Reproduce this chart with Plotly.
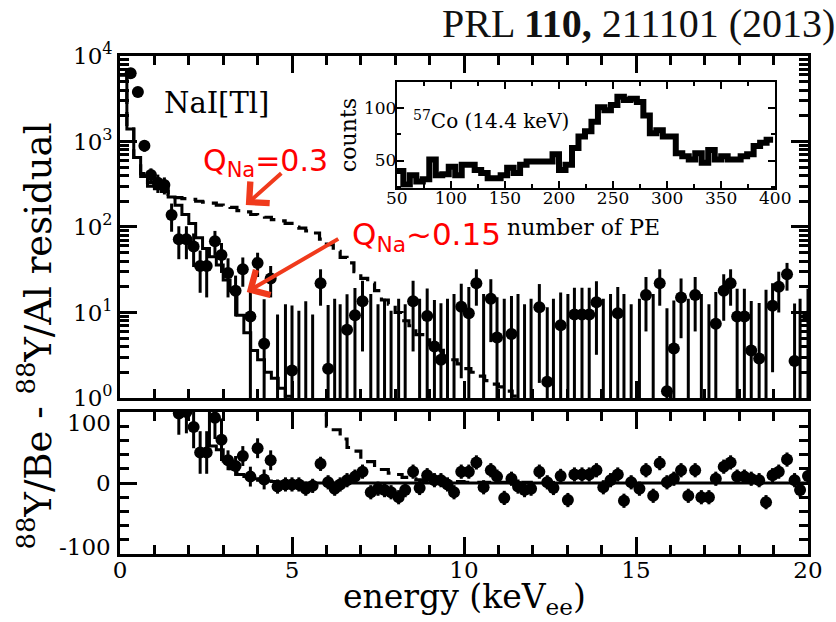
import math
import plotly.graph_objects as go

# ---------------- data ----------------
# energy bin centres (keV_ee) of the measured points
energy = [0.31, 0.52, 0.71, 0.90, 1.10, 1.29, 1.50, 1.71, 1.93, 2.14,
          2.33, 2.52, 2.76, 2.95, 3.14, 3.36, 3.57, 3.79, 4.00, 4.19,
          4.38, 4.58, 4.81, 5.00, 5.20, 5.40, 5.60, 5.83, 6.05, 6.24,
          6.40, 6.60, 6.83, 7.05, 7.29, 7.50, 7.69, 7.88, 8.10, 8.29,
          8.52, 8.71, 8.93, 9.14, 9.33, 9.52, 9.71, 9.92, 10.14, 10.36,
          10.57, 10.78, 10.96, 11.17, 11.38, 11.57, 11.76, 11.95, 12.19, 12.42,
          12.60, 12.81, 13.02, 13.21, 13.43, 13.64, 13.85, 14.05, 14.26, 14.47,
          14.65, 14.86, 15.10, 15.29, 15.50, 15.69, 15.90, 16.10, 16.31, 16.52,
          16.72, 16.90, 17.12, 17.32, 17.55, 17.75, 17.94, 18.15, 18.35, 18.58,
          18.78, 18.97, 19.15, 19.39, 19.61, 19.77, 20.00]

# log-panel residual (points below 1 are off scale; only their error bars show)
spec_counts = [6300, 3800, 890, 405, 330, 310, 138, 72, 72, 59,
               35, 35, 68, 47, 29, 18, 32, 9, 38, 4.3,
               25, 0.5, 0.5, 2.1, 0.5, 0.5, 0.5, 22, 2.2, 0.5,
               0.5, 6.3, 9.3, 13.5, 0.5, 0.5, 0.5, 0.5, 0.5, 0.5,
               13.5, 0.5, 9.1, 4.0, 2.8, 0.5, 0.5, 11.7, 9.8, 22,
               0.5, 14.5, 5.1, 0.5, 5.6, 0.5, 0.5, 0.5, 11.5, 1.55,
               0.5, 7.1, 0.5, 9.5, 9.5, 9.5, 13.2, 0.5, 0.5, 9.8,
               0.5, 0.5, 0.5, 16, 0.5, 22, 1.2, 3.8, 15, 0.5,
               16, 0.5, 0.5, 7.4, 18, 22, 9, 9, 3.6, 2.9,
               0.5, 12, 20, 28, 2.7, 0.5, 9]
spec_err = [900, 500, 130, 80, 80, 70, 50, 30, 30, 25,
            18, 20, 22, 18, 14, 9, 12, 10, 12, 10,
            10, 9, 12, 10, 10, 13, 9, 10, 10, 14,
            12, 10, 10, 10, 16, 12, 14, 10, 14, 12,
            10, 14, 10, 10, 10, 14, 16, 10, 10, 10,
            16, 10, 10, 14, 10, 16, 12, 14, 10, 10,
            14, 10, 16, 10, 10, 10, 10, 14, 16, 10,
            16, 12, 14, 10, 16, 10, 10, 10, 10, 14,
            10, 16, 12, 10, 10, 10, 10, 10, 10, 10,
            18, 10, 10, 10, 10, 14, 10]

# linear-panel residual, from energy[7] (1.71 keV) onwards
resid_counts = [98, 100, 79, 43, 43, 92, 61, 32, 24, 38,
                9, 49, 5, 32, -5, -2, -2, -2, -8, -4,
                27, 1, -8, -2, 4, 9, 16, -13, -8, -10,
                -13, -20, -10, 16, -7, 11, 4, 4, -2, -13,
                16, 16, 29, -6, 18, 9, -21, 6, -5, -10,
                -8, 16, 1, -7, 10, -24, 12, 12, 12, 18,
                -6, 4, 12, -25, 1, -8, 18, -18, 28, 1,
                6, 18, -18, 18, -20, -20, 6, 23, 29, 9,
                9, 6, 4, -27, 11, 16, 33, 4, -10, 10]
resid_err = [30, 30, 30, 30, 30, 30, 30, 14, 14, 14,
             14, 14, 14, 14, 10, 10, 10, 10, 10, 10,
             10, 10, 10, 10, 10, 10, 10, 10, 10, 10,
             10, 10, 10, 10, 10, 10, 10, 10, 10, 10,
             10, 10, 10, 10, 10, 10, 10, 10, 10, 10,
             10, 10, 10, 10, 10, 10, 10, 10, 10, 10,
             10, 10, 10, 10, 10, 10, 10, 10, 10, 10,
             10, 10, 10, 10, 10, 10, 10, 10, 10, 10,
             10, 10, 10, 10, 10, 10, 10, 10, 10, 10]

# model histograms (0.2 keV bins starting at 0 keV)
model_q015 = [6000, 1400, 650, 390, 300, 280, 260, 225, 180, 140,
              110, 75, 56, 45, 36, 24, 18, 9.3, 5.8, 3.6,
              2.8, 2.0, 1.7, 1.3, 1.05, 0.8, 0.6, 0.45]
model_q03 = [6000, 1400, 650, 420, 330, 300, 280, 240, 220, 215,
             210, 200, 195, 190, 180, 175, 170, 155, 150, 140,
             135, 130, 122, 118, 110, 100, 97, 90, 85, 72,
             62, 52, 44, 38, 30, 25, 22, 18, 14, 12.5,
             10, 8, 7, 5.5, 4.8, 4.2, 3.6, 3.1, 2.8, 2.5,
             2.2, 2.0, 1.8, 1.6, 1.45, 1.35, 1.2, 1.05, 0.95, 0.85]

# model residuals in the linear panel (bin edges, bin values)
res_q015_edges = [1.6, 1.8, 2.0, 2.2, 2.4, 2.6, 2.8, 3.0, 3.2, 3.4,
                  3.6, 3.8, 4.0, 4.2, 4.4, 4.6, 4.8, 5.0, 20.0]
res_q015 = [160, 140, 125, 110, 105, 52, 47, 31, 20, 12,
            9, 6, 4, 3, 2, 1.5, 1, 0]
res_q03_edges = [5.6, 5.8, 6.0, 6.2, 6.4, 6.6, 6.8, 7.0, 7.2, 7.4,
                 7.6, 7.8, 8.0, 8.2, 8.4, 8.6, 8.8, 9.0, 9.4, 10.0, 12.0]
res_q03 = [110, 96, 80, 75, 62, 50, 45, 33, 30, 22,
           19, 14, 12, 8, 6, 4.5, 3.5, 3, 2, 1]

# inset: 57Co calibration spectrum, 6-PE bins from 50 PE
pe_counts = [40, 27, 36, 30, 32, 51, 36, 37, 44, 36,
             46, 46, 41, 38, 33, 33, 36, 43, 38, 46,
             49, 49, 49, 49, 56, 41, 46, 62, 73, 78,
             87, 101, 98, 103, 111, 108, 109, 106, 93, 76,
             79, 73, 73, 57, 54, 51, 57, 48, 60, 51,
             54, 51, 51, 54, 56, 64, 67, 70]

# axis ranges and tick positions
E_RANGE = [0, 20]
RES_RANGE = [-100, 100]
LOG_RANGE = [0, 4]
PE_RANGE = [50, 400]
CNT_RANGE = [24, 125.4]
energy_ticks = [0, 5, 10, 15, 20]
resid_ticks = [-100, 0, 100]
resid_labels = ['-100', '0', '100']
log_ticks = [1, 10, 100, 1000, 10000]
log_minor = [m * 10 ** d for d in range(4) for m in range(2, 10)]
pe_ticks = [50, 100, 150, 200, 250, 300, 350, 400]
count_ticks = [50, 100]

# ---------------- figure ----------------
PLOT_W, PLOT_H = 700, 498
TOP_DOM = [0.3133, 1]
BOT_DOM = [0, 0.2851]
INS_X = [0.4024, 0.9524]
INS_Y = [0.7355, 0.9484]


def step_xy(edges, vals):
    return list(edges), list(vals) + [vals[-1]]


model_edges_015 = [round(0.2 * i, 1) for i in range(len(model_q015) + 1)]
model_edges_03 = [round(0.2 * i, 1) for i in range(len(model_q03) + 1)]
pe_edges = [50 + 6 * i for i in range(len(pe_counts) + 1)]
n0 = len(energy) - len(resid_counts)
resid_energy = energy[n0:]

fig = go.Figure()
DASH = '14px,8px'

# ---- top (log) panel ----
x, y = step_xy(model_edges_03, model_q03)
fig.add_trace(go.Scatter(x=x, y=y, mode='lines', line_shape='hv',
                         line=dict(color='black', width=3.2, dash=DASH),
                         xaxis='x2', yaxis='y2', hoverinfo='skip'))
x, y = step_xy(model_edges_015, model_q015)
fig.add_trace(go.Scatter(x=x, y=y, mode='lines', line_shape='hv',
                         line=dict(color='black', width=3),
                         xaxis='x2', yaxis='y2', hoverinfo='skip'))
fig.add_trace(go.Scatter(x=energy, y=spec_counts, mode='markers',
                         marker=dict(color='black', size=12),
                         error_y=dict(type='data', array=spec_err, color='black',
                                      thickness=3, width=0),
                         xaxis='x2', yaxis='y2'))

# ---- bottom (linear) panel ----
x, y = step_xy(res_q03_edges, res_q03)
fig.add_trace(go.Scatter(x=x, y=y, mode='lines', line_shape='hv',
                         line=dict(color='black', width=3.2, dash=DASH),
                         xaxis='x', yaxis='y', hoverinfo='skip'))
x, y = step_xy(res_q015_edges, res_q015)
fig.add_trace(go.Scatter(x=x, y=y, mode='lines', line_shape='hv',
                         line=dict(color='black', width=3),
                         xaxis='x', yaxis='y', hoverinfo='skip'))
fig.add_trace(go.Scatter(x=resid_energy, y=resid_counts, mode='markers',
                         marker=dict(color='black', size=12),
                         error_y=dict(type='data', array=resid_err, color='black',
                                      thickness=3, width=0),
                         xaxis='x', yaxis='y'))

# ---- inset ----
x, y = step_xy(pe_edges, pe_counts)
fig.add_trace(go.Scatter(x=x, y=y, mode='lines', line_shape='hv',
                         line=dict(color='black', width=6),
                         xaxis='x3', yaxis='y3', hoverinfo='skip'))

SERIF = 'DejaVu Serif'


def ax_style(lw=3, major=17, minor_len=9, minor=None):
    d = dict(showline=True, linewidth=lw, linecolor='black', mirror='ticks',
             ticks='inside', ticklen=major, tickwidth=lw, tickcolor='black',
             showgrid=False, zeroline=False)
    if minor is not None:
        m = dict(ticks='inside', ticklen=minor_len, tickwidth=lw, tickcolor='black',
                 showgrid=False)
        m.update(minor)
        d['minor'] = m
    return d


fig.update_layout(
    width=836, height=622,
    margin=dict(l=120, r=16, t=56, b=68),
    paper_bgcolor='white', plot_bgcolor='white',
    showlegend=False,
    font=dict(family=SERIF, color='black', size=22),
    xaxis=dict(domain=[0, 1], anchor='y', range=E_RANGE, tickvals=energy_ticks,
               tickfont=dict(size=23), ticklabelstandoff=-6,
               **ax_style(2.6, minor=dict(dtick=1))),
    yaxis=dict(domain=BOT_DOM, anchor='x', range=RES_RANGE, tickvals=resid_ticks,
               showticklabels=False,
               **ax_style(2.6, minor=dict(dtick=20))),
    xaxis2=dict(domain=[0, 1], anchor='y2', range=E_RANGE, matches='x',
                tickvals=energy_ticks, showticklabels=False,
                **ax_style(2.6, minor=dict(dtick=1))),
    yaxis2=dict(domain=TOP_DOM, anchor='x2', type='log', range=LOG_RANGE,
                tickvals=log_ticks,
                ticktext=['10<sup>%d</sup>' % round(math.log10(v)) for v in log_ticks],
                tickfont=dict(size=23),
                **ax_style(2.6, minor=dict(tickmode='array', tickvals=log_minor))),
    xaxis3=dict(domain=INS_X, anchor='y3', range=PE_RANGE, tickvals=pe_ticks,
                tickfont=dict(size=17), ticklabelstandoff=-6,
                **ax_style(2, 7, 4, minor=dict(dtick=25))),
    yaxis3=dict(domain=INS_Y, anchor='x3', range=CNT_RANGE, tickvals=count_ticks,
                tickfont=dict(size=17), ticklabelstandoff=-5,
                **ax_style(2, 7, 4, minor=dict(dtick=25))),
)

RED = '#ff0000'
ARROW = '#f03a1c'


def px(xp):
    return (xp - 120) / PLOT_W


def py(yp):
    return (554 - yp) / PLOT_H


annots = [
    dict(text='PRL <b>110,</b> 211101 (2013)', x=px(446), y=py(23), xanchor='left',
         yanchor='middle', font=dict(family='Liberation Serif', size=40, color='#111111')),
    dict(text='<sup>88</sup>Y/Be - <sup>88</sup>Y/Al residual', x=px(34), y=py(336),
         textangle=-90, xanchor='center', yanchor='middle', font=dict(size=37)),
    dict(text='energy (keV<sub>ee</sub>)', x=px(470), y=py(598), xanchor='center',
         yanchor='middle', font=dict(size=33)),
    dict(text='NaI[Tl]', x=px(218), y=py(103), xanchor='center', yanchor='middle',
         font=dict(size=29)),
    dict(text='Q<sub>Na</sub>=0.3', x=px(268), y=py(162), xanchor='center', yanchor='middle',
         font=dict(family='DejaVu Sans', size=30, color=RED)),
    dict(text='Q<sub>Na</sub>~0.15', x=px(432), y=py(236), xanchor='center', yanchor='middle',
         font=dict(family='DejaVu Sans', size=31, color=RED)),
    dict(text='<sup>57</sup>Co (14.4 keV)', x=px(497), y=py(120), xanchor='center',
         yanchor='middle', font=dict(size=20)),
    dict(text='counts', x=px(352), y=py(135), textangle=-90, xanchor='center',
         yanchor='middle', font=dict(size=22)),
    dict(text='number of PE', x=px(592), y=py(227), xanchor='center', yanchor='middle',
         font=dict(size=22)),
]
# bottom-panel y tick labels (kept inside the panel height, as in the original)
for lab, ypix in zip(resid_labels, [547, 483, 423]):
    annots.append(dict(text=lab, x=px(113), y=py(ypix), xanchor='right', yanchor='middle',
                       font=dict(size=23)))
for a in annots:
    a.update(xref='paper', yref='paper', showarrow=False)
    fig.add_annotation(**a)

# red arrows (head position in paper coords, tail offset in pixels)
for hx, hy, tx, ty in [(248, 205, 285, 172), (249, 292, 342, 238)]:
    fig.add_annotation(x=px(hx), y=py(hy), xref='paper', yref='paper', text='',
                       showarrow=True, arrowhead=4, arrowsize=1.4, arrowwidth=4,
                       arrowcolor=ARROW, ax=tx - hx, ay=ty - hy)

fig.write_html('out.html')
